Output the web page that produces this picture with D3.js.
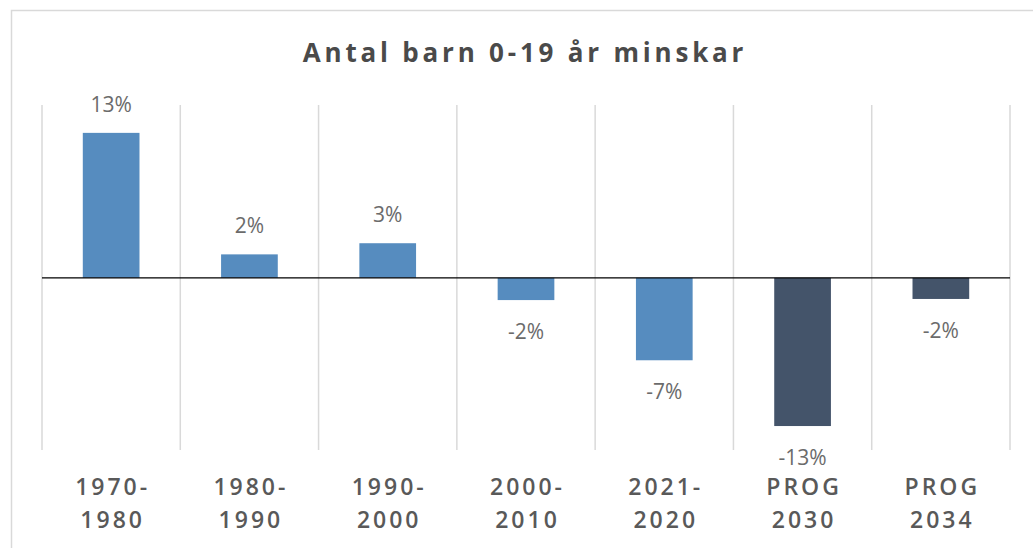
<!DOCTYPE html>
<html>
<head>
<meta charset="utf-8">
<script src="https://cdn.jsdelivr.net/npm/d3@7"></script>
<style>
  body { margin: 0; background: #fff; }
  text { font-family: "Open Sans", "Liberation Sans", sans-serif; }
</style>
</head>
<body>
<div id="chart"></div>
<script>
// chart data
var categories = [["1970-", "1980"], ["1980-", "1990"], ["1990-", "2000"], ["2000-", "2010"], ["2021-", "2020"], ["PROG", "2030"], ["PROG", "2034"]]
var values = [13.0, 2.1, 3.1, -2.0, -7.4, -13.3, -1.9]
var labels = ["13%", "2%", "3%", "-2%", "-7%", "-13%", "-2%"]
var isForecast = [false, false, false, false, false, true, true]
var titleText = "Antal barn 0-19 år minskar"

var config = {
  width: 1033,
  height: 548,
  plot: { left: 42, right: 1010, top: 105, bottom: 450 },
  colors: { hist: "#568cbf", prog: "#44546a", text: "#595959", label: "#6b6b6b", grid: "#d9d9d9" }
}

var svg = d3.select("#chart").append("svg")
    .attr("width", config.width)
    .attr("height", config.height)

// outer chart border (right/bottom are cut off in the picture)
svg.append("path")
    .attr("d", "M11.5,548 V10.5 H1033")
    .attr("fill", "none")
    .attr("stroke", config.colors.grid)
    .attr("stroke-width", 1.5)

var x = d3.scaleBand()
    .domain(d3.range(values.length))
    .range([config.plot.left, config.plot.right])
    .paddingInner(0.59)
    .paddingOuter(0.295)

var y = d3.scaleLinear()
    .domain([-15.45, 15.5])
    .range([config.plot.bottom, config.plot.top])

var step = x.step()

// vertical gridlines between categories
svg.append("g").selectAll("line")
    .data(d3.range(values.length + 1))
  .enter().append("line")
    .attr("x1", function(i){ return config.plot.left + i * step })
    .attr("x2", function(i){ return config.plot.left + i * step })
    .attr("y1", config.plot.top)
    .attr("y2", config.plot.bottom)
    .attr("stroke", config.colors.grid)
    .attr("stroke-width", 1.5)

// bars
svg.append("g").selectAll("rect")
    .data(values)
  .enter().append("rect")
    .attr("x", function(d, i){ return x(i) })
    .attr("width", x.bandwidth())
    .attr("y", function(d){ return y(Math.max(0, d)) })
    .attr("height", function(d){ return Math.abs(y(d) - y(0)) })
    .attr("fill", function(d, i){ return isForecast[i] ? config.colors.prog : config.colors.hist })

// zero line
svg.append("line")
    .attr("x1", config.plot.left)
    .attr("x2", config.plot.right)
    .attr("y1", y(0))
    .attr("y2", y(0))
    .attr("stroke", "#000")
    .attr("stroke-width", 1.2)

// value labels
svg.append("g").selectAll("text")
    .data(values)
  .enter().append("text")
    .attr("x", function(d, i){ return x(i) + x.bandwidth() / 2 })
    .attr("y", function(d){ return d >= 0 ? y(d) - 21 : y(d) + 39 })
    .attr("text-anchor", "middle")
    .attr("font-size", 21)
    .attr("fill", config.colors.label)
    .text(function(d, i){ return labels[i] })

// category labels, two lines each
var cat = svg.append("g").selectAll("text")
    .data(categories)
  .enter().append("text")
    .attr("text-anchor", "middle")
    .attr("font-size", 23)
    .attr("font-weight", 600)
    .attr("letter-spacing", 3)
    .attr("fill", config.colors.text)

cat.append("tspan")
    .attr("x", function(d, i){ return x(i) + x.bandwidth() / 2 + 1.5 })
    .attr("y", 495)
    .text(function(d){ return d[0] })

cat.append("tspan")
    .attr("x", function(d, i){ return x(i) + x.bandwidth() / 2 + 1.5 })
    .attr("y", 528)
    .text(function(d){ return d[1] })

// title
svg.append("text")
    .attr("x", 525)
    .attr("y", 62)
    .attr("text-anchor", "middle")
    .attr("font-size", 26)
    .attr("font-weight", "bold")
    .attr("letter-spacing", 3.8)
    .attr("fill", "#4a4a4a")
    .text(titleText)
</script>
</body>
</html>
